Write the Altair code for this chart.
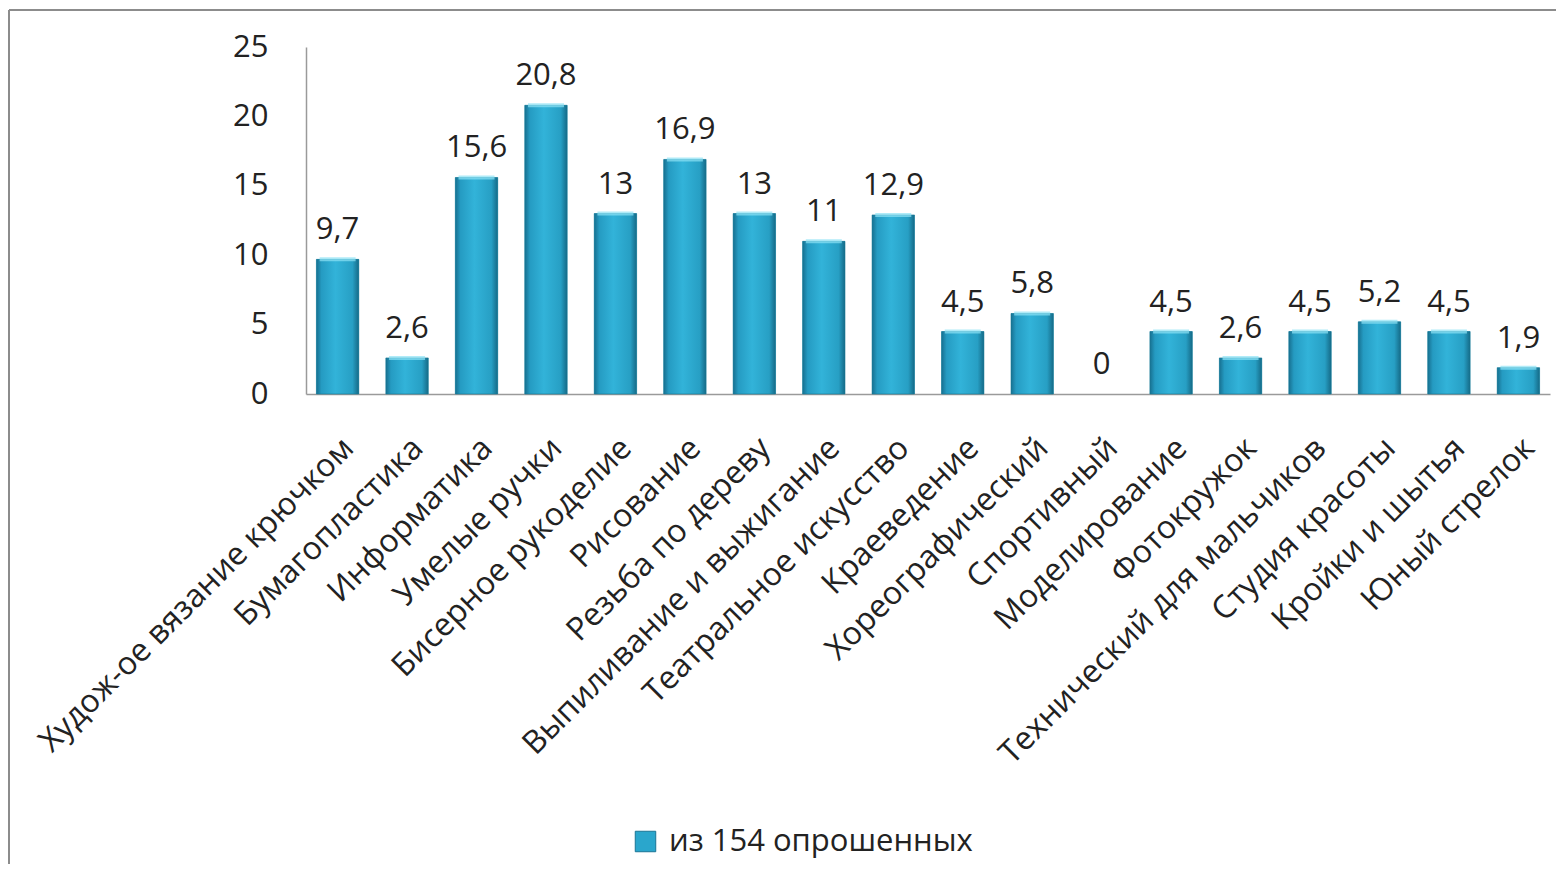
import altair as alt
import pandas as pd

categories = [
    "Худож-ое вязание крючком", "Бумагопластика", "Информатика", "Умелые ручки",
    "Бисерное рукоделие", "Рисование", "Резьба по дереву", "Выпиливание и выжигание",
    "Театральное искусство", "Краеведение", "Хореографический", "Спортивный",
    "Моделирование", "Фотокружок", "Технический для мальчиков", "Студия красоты",
    "Кройки и шытья", "Юный стрелок",
]
values = [9.7, 2.6, 15.6, 20.8, 13, 16.9, 13, 11, 12.9, 4.5, 5.8, 0, 4.5, 2.6, 4.5, 5.2, 4.5, 1.9]
series_name = "из 154 опрошенных"
y_ticks = [0, 5, 10, 15, 20, 25]

df = pd.DataFrame({"cat": categories, "val": values, "series": series_name})

FONT = "Open Sans"
TXT = "#222222"

x_enc = alt.X("cat:N", sort=categories, title=None,
              scale=alt.Scale(paddingInner=0.39, paddingOuter=0.15),
              axis=alt.Axis(labelAngle=-45, labelAlign="right", labelBaseline="top",
                            labelPadding=38, labelFontSize=32, labelFont=FONT,
                            labelColor=TXT, ticks=False, domainColor="#9a9a9a",
                            domainWidth=1.5, labelLimit=800))
y_enc = alt.Y("val:Q", title=None,
              scale=alt.Scale(domain=[0, 25], nice=False),
              axis=alt.Axis(values=y_ticks, grid=False, ticks=False, labelPadding=38,
                            labelFontSize=31, labelFont=FONT, labelColor=TXT,
                            domainColor="#9a9a9a", domainWidth=1.5))

base = alt.Chart(df)
nonzero = base.transform_filter("datum.val > 0")

legend_bars = nonzero.mark_bar().encode(
    x=x_enc, y=y_enc,
    color=alt.Color("series:N", title=None,
                    scale=alt.Scale(range=["#2aa6cc"]),
                    legend=alt.Legend(orient="none", legendX=324, legendY=779,
                                      symbolType="square", symbolSize=420,
                                      symbolStrokeColor="#1a7595", symbolStrokeWidth=1,
                                      labelFontSize=31, labelFont=FONT, labelColor=TXT,
                                      labelOffset=8, labelLimit=800)),
)

grad = alt.Gradient(
    gradient="linear", x1=0, x2=1, y1=0, y2=0,
    stops=[
        alt.GradientStop(offset=0, color="#177090"),
        alt.GradientStop(offset=0.12, color="#259bc2"),
        alt.GradientStop(offset=0.45, color="#32b3d9"),
        alt.GradientStop(offset=0.85, color="#279fc4"),
        alt.GradientStop(offset=1, color="#156a87"),
    ],
)
grad_bars = nonzero.mark_bar(color=grad, stroke="#1a7896", strokeWidth=0.6).encode(
    x=x_enc, y=y_enc
)

top_bevel = nonzero.mark_tick(
    color="#8fe3f5", thickness=4, size=36
).encode(x=x_enc, y=y_enc)

labels = base.mark_text(fontSize=31, font=FONT, color=TXT, baseline="alphabetic", dy=-20).encode(
    x=x_enc, y=y_enc,
    text=alt.Text("lab:N"),
).transform_calculate(lab="replace(toString(datum.val), '.', ',')")

border_top = alt.Chart(df).mark_rule(color="#8c8c8c", strokeWidth=2).encode(
    x=alt.value(-297), x2=alt.value(1300), y=alt.value(-37)
)
border_left = alt.Chart(df).mark_rule(color="#8c8c8c", strokeWidth=2).encode(
    x=alt.value(-297), y=alt.value(-37), y2=alt.value(900)
)

chart = alt.layer(legend_bars, grad_bars, top_bevel, labels, border_top, border_left).properties(
    width=1244, height=347,
    autosize=alt.AutoSizeParams(type="none"),
    padding={"left": 298, "top": 39, "right": 6, "bottom": 470},
).configure(background="white").configure_view(strokeWidth=0, stroke="transparent")

chart.save("out.html", embed_options={"renderer": "svg", "actions": False})
